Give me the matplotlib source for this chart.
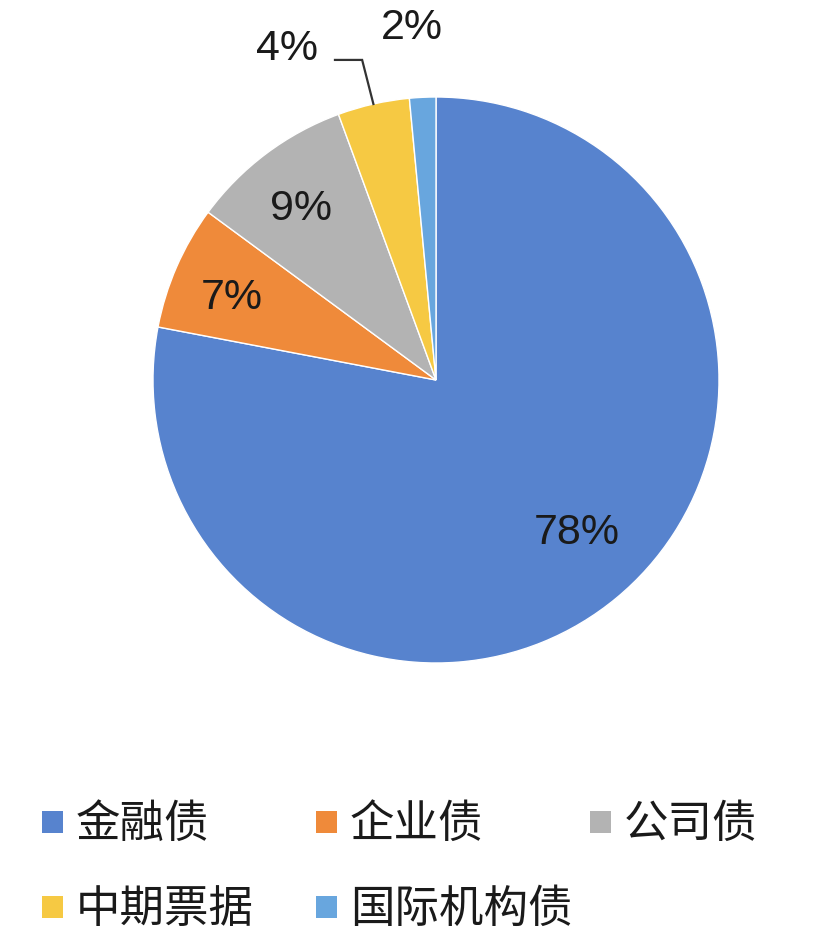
import numpy as np
import matplotlib
matplotlib.use("Agg")
import matplotlib.pyplot as plt
from matplotlib.patches import Rectangle

plt.rcParams["font.family"] = ["Noto Sans CJK SC", "DejaVu Sans"]

# data
categories = ["金融债", "企业债", "公司债", "中期票据", "国际机构债"]
shares = [78.0, 7.1, 9.3, 4.1, 1.5]
pct_labels = ["78%", "7%", "9%", "4%", "2%"]
colors = ["#5783CE", "#EF8A3A", "#B3B3B3", "#F6C943", "#68A6DE"]

# where each percent label sits (data units, pie radius = 1)
label_pos = [(0.498, -0.541), (-0.721, 0.290), (-0.477, 0.604),
             (-0.527, 1.170), (-0.085, 1.244)]

W, H = 828, 950
fig = plt.figure(figsize=(W / 100, H / 100), dpi=100)
fig.patch.set_facecolor("white")

cx, cy, r = 436, 380, 283
ax = fig.add_axes([(cx - r) / W, (H - cy - r) / H, 2 * r / W, 2 * r / H])

wedges, _ = ax.pie(
    shares,
    colors=colors,
    startangle=90,
    counterclock=False,
    radius=1,
    wedgeprops=dict(edgecolor="white", linewidth=1.0),
)
ax.set_xlim(-1, 1)
ax.set_ylim(-1, 1)
ax.axis("off")

for txt, (x, y) in zip(pct_labels, label_pos):
    ax.text(x, y, txt, ha="center", va="center", fontsize=31,
            family="Liberation Sans", color="#1a1a1a", clip_on=False)

# leader line for the small yellow slice
w = wedges[3]
mid = np.deg2rad((w.theta1 + w.theta2) / 2)
ex, ey = np.cos(mid), np.sin(mid)
ax.plot([-0.357, -0.261, ex], [1.131, 1.131, ey], color="#333333",
        lw=1.6, clip_on=False, solid_joinstyle="miter")

# legend laid out like the excel one: 3 columns of fixed width
for i, (name, col) in enumerate(zip(categories, colors)):
    row, c = divmod(i, 3)
    x = 42 + c * 274
    y = 822 + row * 85
    fig.patches.append(Rectangle((x / W, (H - y - 11) / H), 21 / W, 22 / H,
                                 transform=fig.transFigure, facecolor=col,
                                 edgecolor="none"))
    fig.text((x + 34) / W, (H - y - 2) / H, name, ha="left", va="center",
             fontsize=32, color="#1a1a1a")

fig.savefig("out.png", dpi=100, facecolor="white")
